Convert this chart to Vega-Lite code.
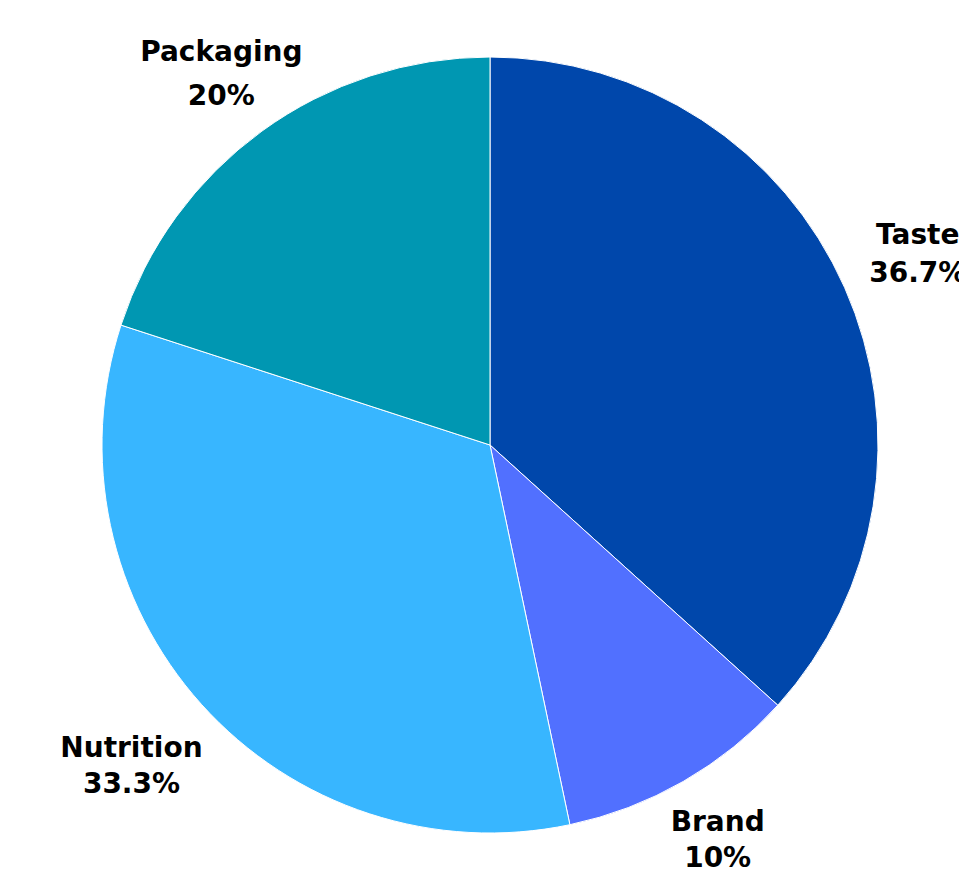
{
  "$schema": "https://vega.github.io/schema/vega-lite/v6.json",
  "width": 938,
  "height": 868,
  "padding": {"left": 21, "top": 11, "right": 0, "bottom": 0},
  "autosize": {"type": "none"},
  "background": "white",
  "view": {"stroke": null},
  "data": {
    "values": [
      {"category": "Taste", "share": 36.7, "label": "Taste\n36.7%", "order": 1},
      {"category": "Brand", "share": 10, "label": "Brand\n10%", "order": 2},
      {"category": "Nutrition", "share": 33.3, "label": "Nutrition\n33.3%", "order": 3},
      {"category": "Packaging", "share": 20, "label": "Packaging\n20%", "order": 4}
    ]
  },
  "encoding": {
    "theta": {"field": "share", "type": "quantitative", "stack": true},
    "order": {"field": "order", "type": "quantitative"}
  },
  "layer": [
    {
      "mark": {"type": "arc", "outerRadius": 388, "stroke": "white", "strokeWidth": 1},
      "encoding": {
        "color": {
          "field": "category",
          "type": "nominal",
          "scale": {
            "domain": ["Taste", "Brand", "Nutrition", "Packaging"],
            "range": ["#0047AB", "#5170FF", "#38B6FF", "#0097B2"]
          },
          "legend": null
        }
      }
    },
    {
      "mark": {"type": "text", "radius": 468, "dy": -19, "font": "DejaVu Sans", "fontWeight": "bold", "fontSize": 28, "lineBreak": "\n", "lineHeight": 38, "color": "black", "align": "center", "baseline": "middle"},
      "encoding": {
        "text": {"field": "label", "type": "nominal"},
        "opacity": {"condition": {"test": "datum.category === 'Taste'", "value": 1}, "value": 0}
      }
    },
    {
      "mark": {"type": "text", "radius": 457, "dy": -18, "font": "DejaVu Sans", "fontWeight": "bold", "fontSize": 28, "lineBreak": "\n", "lineHeight": 36, "color": "black", "align": "center", "baseline": "middle"},
      "encoding": {
        "text": {"field": "label", "type": "nominal"},
        "opacity": {"condition": {"test": "datum.category === 'Brand'", "value": 1}, "value": 0}
      }
    },
    {
      "mark": {"type": "text", "radius": 482, "dy": -18, "font": "DejaVu Sans", "fontWeight": "bold", "fontSize": 28, "lineBreak": "\n", "lineHeight": 36, "color": "black", "align": "center", "baseline": "middle"},
      "encoding": {
        "text": {"field": "label", "type": "nominal"},
        "opacity": {"condition": {"test": "datum.category === 'Nutrition'", "value": 1}, "value": 0}
      }
    },
    {
      "mark": {"type": "text", "radius": 457, "dy": -22, "font": "DejaVu Sans", "fontWeight": "bold", "fontSize": 28, "lineBreak": "\n", "lineHeight": 44, "color": "black", "align": "center", "baseline": "middle"},
      "encoding": {
        "text": {"field": "label", "type": "nominal"},
        "opacity": {"condition": {"test": "datum.category === 'Packaging'", "value": 1}, "value": 0}
      }
    }
  ]
}
